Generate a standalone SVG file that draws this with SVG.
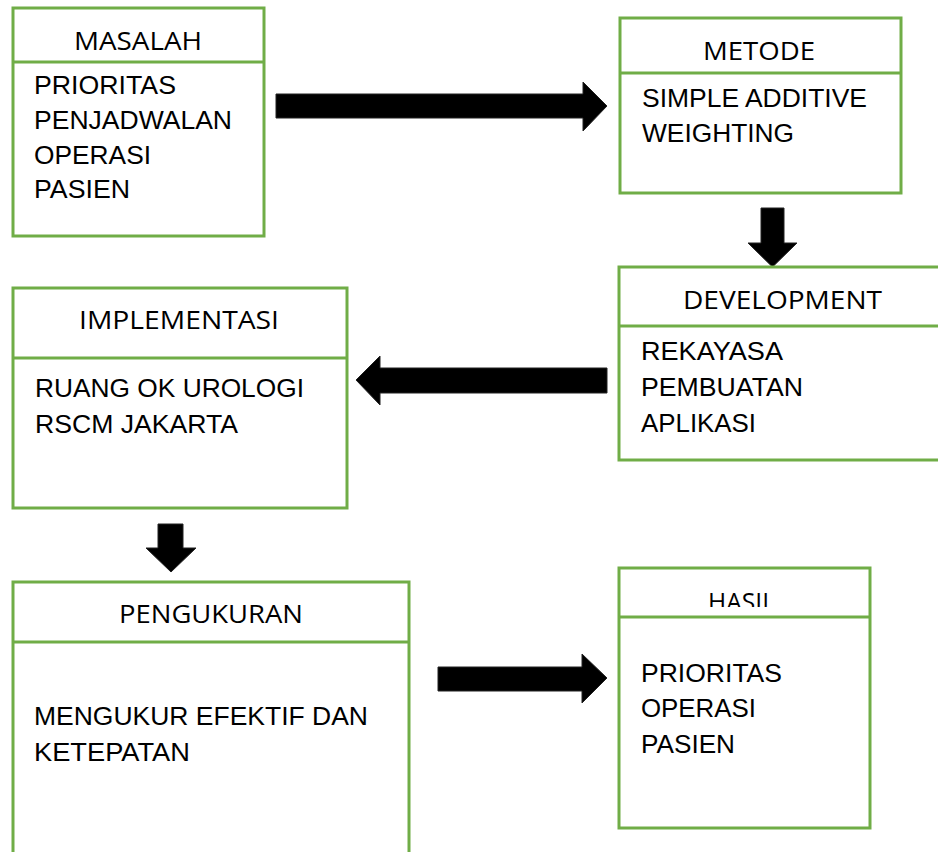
<svg xmlns="http://www.w3.org/2000/svg" width="938" height="852" viewBox="0 0 938 852">
<defs>
<style>
.box{fill:#fff;stroke:#70AD47;stroke-width:3}
.div{stroke:#70AD47;stroke-width:3}
.hd{font-family:"Open Sans","Noto Sans",sans-serif;font-size:26px;fill:#000}
.bd{font-family:"Liberation Sans",Arial,sans-serif;font-size:25px;fill:#000}
.arr{fill:#000;stroke:#222;stroke-width:1}
</style>
<clipPath id="hasilClip"><rect x="619" y="568" width="251" height="39"/></clipPath>
</defs>
<rect width="938" height="852" fill="#fff"/>
<g id="connectors">
<polygon class="arr" points="276,94 583,94 583,82 607,106 583,131 583,118 276,118"/>
<polygon class="arr" points="761,208 784,208 784,243 797,243 772.5,267 748,243 761,243"/>
<polygon class="arr" points="607,368 380,368 380,356 356,380 380,405 380,393 607,393"/>
<polygon class="arr" points="158,524 183,524 183,548 196,548 171,572 146,548 158,548"/>
<polygon class="arr" points="438,667 582,667 582,654 607,678 582,703 582,691 438,691"/>
</g>
<g id="masalah">
<rect class="box" x="13" y="8" width="251" height="228"/>
<line class="div" x1="13" y1="62" x2="264" y2="62"/>
<text class="hd" x="74" y="50" textLength="128" lengthAdjust="spacingAndGlyphs">MASALAH</text>
<text class="bd" x="34" y="94" textLength="142" lengthAdjust="spacingAndGlyphs">PRIORITAS</text>
<text class="bd" x="34" y="129" textLength="198" lengthAdjust="spacingAndGlyphs">PENJADWALAN</text>
<text class="bd" x="34" y="164" textLength="117" lengthAdjust="spacingAndGlyphs">OPERASI</text>
<text class="bd" x="34" y="198" textLength="96" lengthAdjust="spacingAndGlyphs">PASIEN</text>
</g>
<g id="metode">
<rect class="box" x="620" y="18" width="281" height="175"/>
<line class="div" x1="620" y1="73" x2="901" y2="73"/>
<text class="hd" x="703" y="60" textLength="112" lengthAdjust="spacingAndGlyphs">METODE</text>
<text class="bd" x="642" y="107" textLength="225" lengthAdjust="spacingAndGlyphs">SIMPLE ADDITIVE</text>
<text class="bd" x="642" y="142" textLength="152" lengthAdjust="spacingAndGlyphs">WEIGHTING</text>
</g>
<g id="development">
<rect class="box" x="619" y="267" width="330" height="193"/>
<line class="div" x1="619" y1="326" x2="940" y2="326"/>
<text class="hd" x="683" y="309" textLength="199" lengthAdjust="spacingAndGlyphs">DEVELOPMENT</text>
<text class="bd" x="641" y="360" textLength="142" lengthAdjust="spacingAndGlyphs">REKAYASA</text>
<text class="bd" x="641" y="396" textLength="162" lengthAdjust="spacingAndGlyphs">PEMBUATAN</text>
<text class="bd" x="641" y="432" textLength="115" lengthAdjust="spacingAndGlyphs">APLIKASI</text>
</g>
<g id="implementasi">
<rect class="box" x="13" y="288" width="334" height="220"/>
<line class="div" x1="13" y1="358" x2="347" y2="358"/>
<text class="hd" x="79" y="329" textLength="200" lengthAdjust="spacingAndGlyphs">IMPLEMENTASI</text>
<text class="bd" x="35" y="397" textLength="269" lengthAdjust="spacingAndGlyphs">RUANG OK UROLOGI</text>
<text class="bd" x="35" y="433" textLength="203" lengthAdjust="spacingAndGlyphs">RSCM JAKARTA</text>
</g>
<g id="pengukuran">
<rect class="box" x="13" y="582" width="396" height="290"/>
<line class="div" x1="13" y1="642" x2="409" y2="642"/>
<text class="hd" x="119" y="623" textLength="184" lengthAdjust="spacingAndGlyphs">PENGUKURAN</text>
<text class="bd" x="34" y="725" textLength="334" lengthAdjust="spacingAndGlyphs">MENGUKUR EFEKTIF DAN</text>
<text class="bd" x="34" y="761" textLength="156" lengthAdjust="spacingAndGlyphs">KETEPATAN</text>
</g>
<g id="hasil">
<rect class="box" x="619" y="568" width="251" height="260"/>
<line class="div" x1="619" y1="617" x2="870" y2="617"/>
<text class="hd" x="708" y="611" textLength="67" lengthAdjust="spacingAndGlyphs" clip-path="url(#hasilClip)">HASIL</text>
<text class="bd" x="641" y="682" textLength="141" lengthAdjust="spacingAndGlyphs">PRIORITAS</text>
<text class="bd" x="641" y="717" textLength="115" lengthAdjust="spacingAndGlyphs">OPERASI</text>
<text class="bd" x="641" y="753" textLength="94" lengthAdjust="spacingAndGlyphs">PASIEN</text>
</g>
</svg>
